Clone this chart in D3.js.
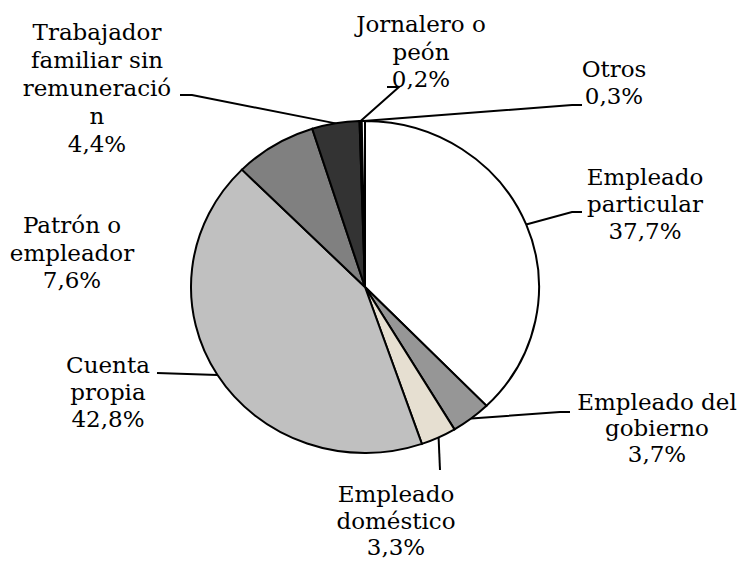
<!DOCTYPE html>
<html>
<head>
<meta charset="utf-8">
<script src="https://cdn.jsdelivr.net/npm/d3@7"></script>
<style>
  body { margin: 0; background: #fff; }
  text { font-family: "DejaVu Serif", "Liberation Serif", serif; font-size: 23px; fill: #000; }
</style>
</head>
<body>
<div id="chart"></div>
<script>
// categories, clockwise from 12 o'clock
var categories = ["Empleado particular", "Empleado del gobierno", "Empleado doméstico",
  "Cuenta propia", "Patrón o empleador", "Trabajador familiar sin remuneración",
  "Jornalero o peón", "Otros"];
var values = [37.7, 3.7, 3.3, 42.8, 7.6, 4.4, 0.2, 0.3];
var labelLines = [
  ["Empleado", "particular"],
  ["Empleado del", "gobierno"],
  ["Empleado", "doméstico"],
  ["Cuenta", "propia"],
  ["Patrón o", "empleador"],
  ["Trabajador", "familiar sin", "remuneració", "n"],
  ["Jornalero o", "peón"],
  ["Otros"]
];
var fills = ["#ffffff", "#969696", "#e6dfd1", "#c0c0c0", "#808080", "#333333", "#000000", "#ffffff"];

var width = 738, height = 561;
var cx = 365, cy = 287, rx = 174, ry = 166;

// label block: center x, baseline of first line, line height, leader end (x,y) and elbow length
var labelPos = [
  {x: 645, y: 185, h: 27,   lx: 582, ly: 212, elbow: 10},
  {x: 657, y: 410, h: 26,   lx: 570, ly: 412, elbow: 10},
  {x: 396, y: 502, h: 26.5, lx: 440, ly: 470, elbow: 0},
  {x: 108, y: 373, h: 27,   lx: 157, ly: 373, elbow: 0},
  {x: 72,  y: 233, h: 27.5, lx: null},
  {x: 97,  y: 40,  h: 28,   lx: 180, ly: 95, elbow: -12},
  {x: 421, y: 32,  h: 27.5, lx: 387, ly: 87, elbow: -12},
  {x: 614, y: 77,  h: 27,   lx: 582, ly: 105, elbow: 10}
];

var data = categories.map(function(c, i) {
  return {name: c, value: values[i], lines: labelLines[i], fill: fills[i], pos: labelPos[i]};
});

var svg = d3.select("#chart").append("svg")
  .attr("width", width)
  .attr("height", height);

var pie = d3.pie().sort(null).value(function(d) { return d.value; });
var arcs = pie(data);
var arc = d3.arc().innerRadius(0).outerRadius(rx);

var fmt = function(v) { return d3.format(".1f")(v).replace(".", ",") + "%"; };

// leader lines (drawn under the pie)
var lead = svg.append("g");
arcs.forEach(function(a) {
  var p = a.data.pos;
  if (p.lx == null) return;
  var mid = (a.startAngle + a.endAngle) / 2;
  var ex = cx + rx * Math.sin(mid), ey = cy - ry * Math.cos(mid);
  var pts;
  if (p.elbow === 0) pts = [[ex, ey], [p.lx, p.ly]];
  else pts = [[ex, ey], [p.lx - p.elbow, p.ly], [p.lx, p.ly]];
  lead.append("path")
    .attr("d", d3.line()(pts))
    .attr("fill", "none")
    .attr("stroke", "#000")
    .attr("stroke-width", 2);
});

var g = svg.append("g")
  .attr("transform", "translate(" + cx + "," + cy + ") scale(1," + (ry / rx) + ")");

g.selectAll("path")
  .data(arcs)
  .enter()
  .append("path")
  .attr("d", arc)
  .attr("fill", function(d) { return d.data.fill; })
  .attr("stroke", "#000")
  .attr("stroke-width", 2)
  .attr("vector-effect", "non-scaling-stroke");

// labels
var lab = svg.append("g");
data.forEach(function(d) {
  var t = lab.append("text")
    .attr("text-anchor", "middle")
    .attr("x", d.pos.x)
    .attr("y", d.pos.y);
  d.lines.concat([fmt(d.value)]).forEach(function(l, i) {
    t.append("tspan")
      .attr("x", d.pos.x)
      .attr("dy", i === 0 ? 0 : d.pos.h)
      .text(l);
  });
});
</script>
</body>
</html>
